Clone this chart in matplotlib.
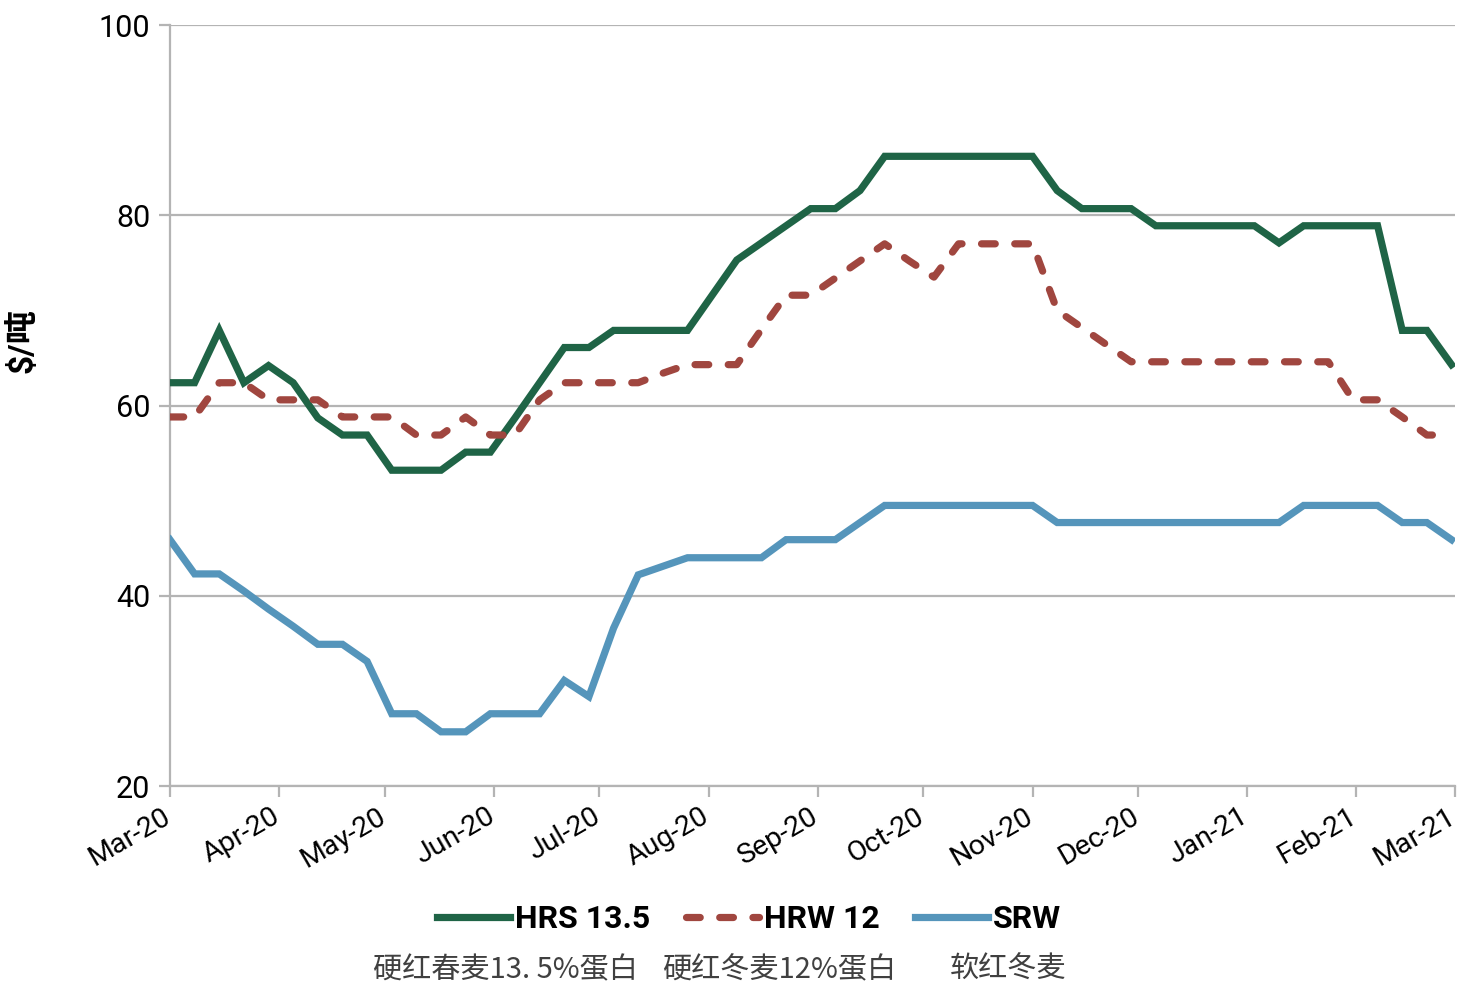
import numpy as np
import pandas as pd
import matplotlib
matplotlib.use("Agg")
import matplotlib.pyplot as plt
import matplotlib.dates as mdates
from matplotlib.transforms import ScaledTranslation

plt.rcParams["font.family"] = ["Roboto", "Noto Sans CJK SC", "DejaVu Sans"]

# weekly quotes, Mar 2020 - Mar 2021
dates = pd.date_range("2020-03-01", periods=53, freq="7D")

hrs = [62.4, 62.4, 67.9, 62.4, 64.2, 62.4, 58.7, 56.9, 56.9, 53.2,
       53.2, 53.2, 55.1, 55.1, 58.7, 62.4, 66.1, 66.1, 67.9, 67.9,
       67.9, 67.9, 71.6, 75.3, 77.1, 78.9, 80.7, 80.7, 82.6, 86.2,
       86.2, 86.2, 86.2, 86.2, 86.2, 86.2, 82.6, 80.7, 80.7, 80.7,
       78.9, 78.9, 78.9, 78.9, 78.9, 77.1, 78.9, 78.9, 78.9, 78.9,
       67.9, 67.9, 64.3]

hrw = [58.8, 58.8, 62.4, 62.4, 60.6, 60.6, 60.6, 58.8, 58.8, 58.8,
       56.9, 56.9, 58.8, 56.9, 56.9, 60.6, 62.4, 62.4, 62.4, 62.4,
       63.4, 64.3, 64.3, 64.3, 68.0, 71.6, 71.6, 73.4, 75.2, 77.0,
       75.2, 73.5, 77.0, 77.0, 77.0, 77.0, 70.0, 68.2, 66.4, 64.6,
       64.6, 64.6, 64.6, 64.6, 64.6, 64.6, 64.6, 64.6, 60.6, 60.6,
       58.8, 56.9, 56.9]

srw = [45.9, 42.3, 42.3, 40.5, 38.6, 36.8, 34.9, 34.9, 33.1, 27.6,
       27.6, 25.7, 25.7, 27.6, 27.6, 27.6, 31.1, 29.4, 36.6, 42.2,
       43.1, 44.0, 44.0, 44.0, 44.0, 45.9, 45.9, 45.9, 47.7, 49.5,
       49.5, 49.5, 49.5, 49.5, 49.5, 49.5, 47.7, 47.7, 47.7, 47.7,
       47.7, 47.7, 47.7, 47.7, 47.7, 47.7, 49.5, 49.5, 49.5, 49.5,
       47.7, 47.7, 45.9]

series_names = ["HRS 13.5", "HRW 12", "SRW"]
series_notes = ["硬红春麦13. 5%蛋白", "硬红冬麦12%蛋白", "软红冬麦"]
colors = ["#1f6446", "#a0463f", "#5595bb"]
yticks = [20, 40, 60, 80, 100]

fig = plt.figure(figsize=(14.6, 9.86), dpi=100)
ax = fig.add_axes([0.1164, 0.2028, 0.8802, 0.7718])

lw = 5.2
ax.plot(dates, hrs, color=colors[0], lw=lw, solid_joinstyle="miter", label=series_names[0], zorder=3)
ax.plot(dates, hrw, color=colors[1], lw=lw, linestyle=(0, (1.9, 2.7)),
        dash_capstyle="round", label=series_names[1], zorder=3)
ax.plot(dates, srw, color=colors[2], lw=lw, solid_joinstyle="miter", label=series_names[2], zorder=3)

ax.set_ylim(20, 100)
ax.set_yticks(yticks)
ax.set_xlim(pd.Timestamp("2020-03-01"), pd.Timestamp("2021-03-01"))
ax.xaxis.set_major_locator(mdates.MonthLocator())
ax.xaxis.set_major_formatter(mdates.DateFormatter("%b-%y"))

grid_c = "#b4b4b4"
ax.grid(axis="y", color=grid_c, lw=1.6, zorder=0)
for s in ["top", "right"]:
    ax.spines[s].set_visible(False)
for s in ["left", "bottom"]:
    ax.spines[s].set_color(grid_c)
    ax.spines[s].set_linewidth(1.6)

ax.tick_params(axis="both", colors=grid_c, width=1.6, length=8, labelcolor="black")
ax.tick_params(axis="y", pad=6, labelsize=22)
ax.tick_params(axis="x", pad=4, labelsize=20.5)
shift = ScaledTranslation(-8 / 100, 0, fig.dpi_scale_trans)
for lab in ax.get_xticklabels():
    lab.set_rotation(30)
    lab.set_ha("right")
    lab.set_rotation_mode("anchor")
    lab.set_transform(lab.get_transform() + shift)

ax.set_ylabel("$/吨", fontsize=24, fontweight="bold")
ax.yaxis.set_label_coords(-0.102, 0.586)

fig.legend(loc="center", bbox_to_anchor=(0.513, 0.068), ncol=3, frameon=False,
           prop={"size": 23, "weight": "bold"}, handlelength=2.3,
           handletextpad=0.15, columnspacing=1.1)

note_x = [373, 662, 950]
for x, note in zip(note_x, series_notes):
    fig.text(x / 1460, 1 - 970 / 986, note, fontsize=21, color="#404040",
             family=["Noto Sans CJK SC", "DejaVu Sans"], va="center", ha="left")

fig.savefig("out.png", dpi=100)
